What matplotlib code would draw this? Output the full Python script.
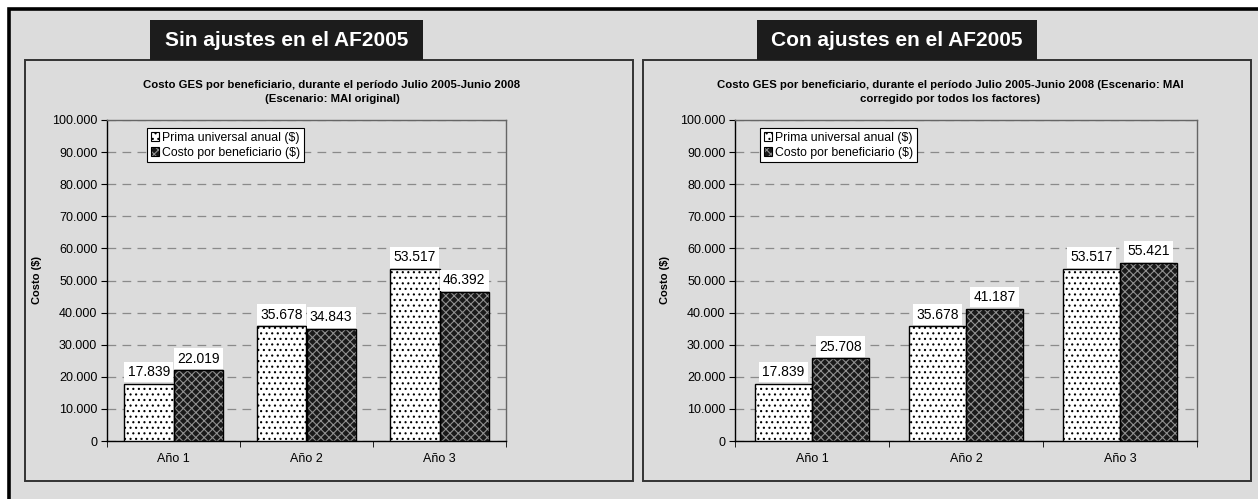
import numpy as np
import matplotlib
matplotlib.use('Agg')
import matplotlib.pyplot as plt
from matplotlib.patches import Rectangle, Patch

plt.rcParams['font.family'] = ['Liberation Sans', 'DejaVu Sans']
plt.rcParams['hatch.linewidth'] = 0.8

anios = ['Año 1', 'Año 2', 'Año 3']
series = ['Prima universal anual ($)', 'Costo por beneficiario ($)']

prima = [17839, 35678, 53517]
costo_sin = [22019, 34843, 46392]
costo_con = [25708, 41187, 55421]

titulos_caja = ['Sin ajustes en el AF2005', 'Con ajustes en el AF2005']
titulos_graf = ['Costo GES por beneficiario, durante el período Julio 2005-Junio 2008\n(Escenario: MAI original)',
                'Costo GES por beneficiario, durante el período Julio 2005-Junio 2008 (Escenario: MAI\ncorregido por todos los factores)']
yticks = np.arange(0, 100001, 10000)

W, H = 1258, 499
BG = '#dcdcdc'

# estilos: (fondo, color trama, trama)
estilos = [('white', 'black', '...'), ('#1a1a1a', '#909090', 'xxxx')]


def fx(px):
    return px / W


def fy(py):
    return 1 - py / H


def miles(v):
    return f'{v:,.0f}'.replace(',', '.')


fig = plt.figure(figsize=(W / 100, H / 100), dpi=100)
fig.patch.set_facecolor('white')

# fondo gris con marco negro (sigue fuera de la hoja por derecha y abajo)
fig.add_artist(Rectangle((fx(9), -0.1), 1.1, fy(9) + 0.1, transform=fig.transFigure,
                         facecolor=BG, edgecolor='black', lw=2.6, zorder=0))

paneles = [(25, 633), (643, 1251)]
cajas = [(150, 423), (757, 1037)]
ejes = [(107, 506), (735, 1197)]
leyendas = [147, 760]

for i in range(2):
    x0, x1 = paneles[i]
    fig.add_artist(Rectangle((fx(x0), fy(481)), fx(x1 - x0), (481 - 60) / H,
                             transform=fig.transFigure, facecolor=BG,
                             edgecolor='#333333', lw=1.4, zorder=1))
    c0, c1 = cajas[i]
    fig.add_artist(Rectangle((fx(c0), fy(60)), fx(c1 - c0), 40 / H,
                             transform=fig.transFigure, facecolor='#1c1c1c',
                             edgecolor='none', zorder=2))
    fig.text(fx((c0 + c1) / 2), fy(40), titulos_caja[i], color='white',
             fontsize=15, fontweight='bold', ha='center', va='center', zorder=3)
    fig.text(fx((x0 + x1) / 2 + 3), fy(92), titulos_graf[i], fontsize=8.2,
             fontweight='bold', ha='center', va='center', linespacing=1.6, zorder=3)

    a0, a1 = ejes[i]
    ax = fig.add_axes([fx(a0), fy(441), fx(a1 - a0), (441 - 120) / H])
    ax.set_facecolor(BG)
    ax.set_zorder(4)

    valores = [prima, costo_sin if i == 0 else costo_con]
    x = np.arange(len(anios))
    ancho = 0.37
    for j, vals in enumerate(valores):
        fc, hc, ht = estilos[j]
        pos = x + (j - 0.5) * ancho
        ax.bar(pos, vals, ancho, color=fc, edgecolor=hc, hatch=ht, lw=0, zorder=3)
        ax.bar(pos, vals, ancho, color='none', edgecolor='black', lw=1.0, zorder=4)
        for p, v in zip(pos, vals):
            ax.text(p, v + 1500, miles(v), ha='center', va='bottom', fontsize=10,
                    zorder=5, bbox=dict(facecolor='white', edgecolor='none', pad=2.4))

    ax.set_xlim(-0.5, 2.5)
    ax.set_ylim(0, 100000)
    ax.set_yticks(yticks)
    ax.set_yticklabels([miles(v) for v in yticks], fontsize=9)
    ax.yaxis.grid(True, color='#8a8a8a', linestyle=(0, (7, 5)), lw=0.9)
    ax.set_axisbelow(True)
    ax.set_xticks(x)
    ax.set_xticklabels(anios, fontsize=9)
    ax.tick_params(axis='x', length=0, pad=9)
    ax.set_xticks([-0.5, 0.5, 1.5, 2.5], minor=True)
    ax.tick_params(axis='x', which='minor', length=4, color='black')
    ax.tick_params(axis='y', length=4, color='black', pad=3)
    ax.set_ylabel('Costo ($)', fontsize=8, fontweight='bold', labelpad=7)
    for lado in ['left', 'bottom']:
        ax.spines[lado].set_color('black')
        ax.spines[lado].set_linewidth(1.0)
    for lado in ['top', 'right']:
        ax.spines[lado].set_color('#666666')
        ax.spines[lado].set_linewidth(1.0)

    handles = []
    for j in range(2):
        fc, hc, ht = estilos[j]
        handles.append((Patch(facecolor=fc, edgecolor=hc, hatch=ht, lw=0),
                        Patch(facecolor='none', edgecolor='black', lw=0.8)))
    bx = (leyendas[i] - a0) / (a1 - a0)
    leg = ax.legend(handles, series, loc='upper left', bbox_to_anchor=(bx, 0.975),
                    fontsize=8.8, frameon=True, fancybox=False, framealpha=1,
                    edgecolor='black', handlelength=0.7, handleheight=0.7,
                    handletextpad=0.25, borderpad=0.3, labelspacing=0.25,
                    borderaxespad=0)
    leg.get_frame().set_linewidth(0.8)
    leg.set_zorder(6)

plt.savefig('out.png', dpi=100, facecolor=fig.get_facecolor())
